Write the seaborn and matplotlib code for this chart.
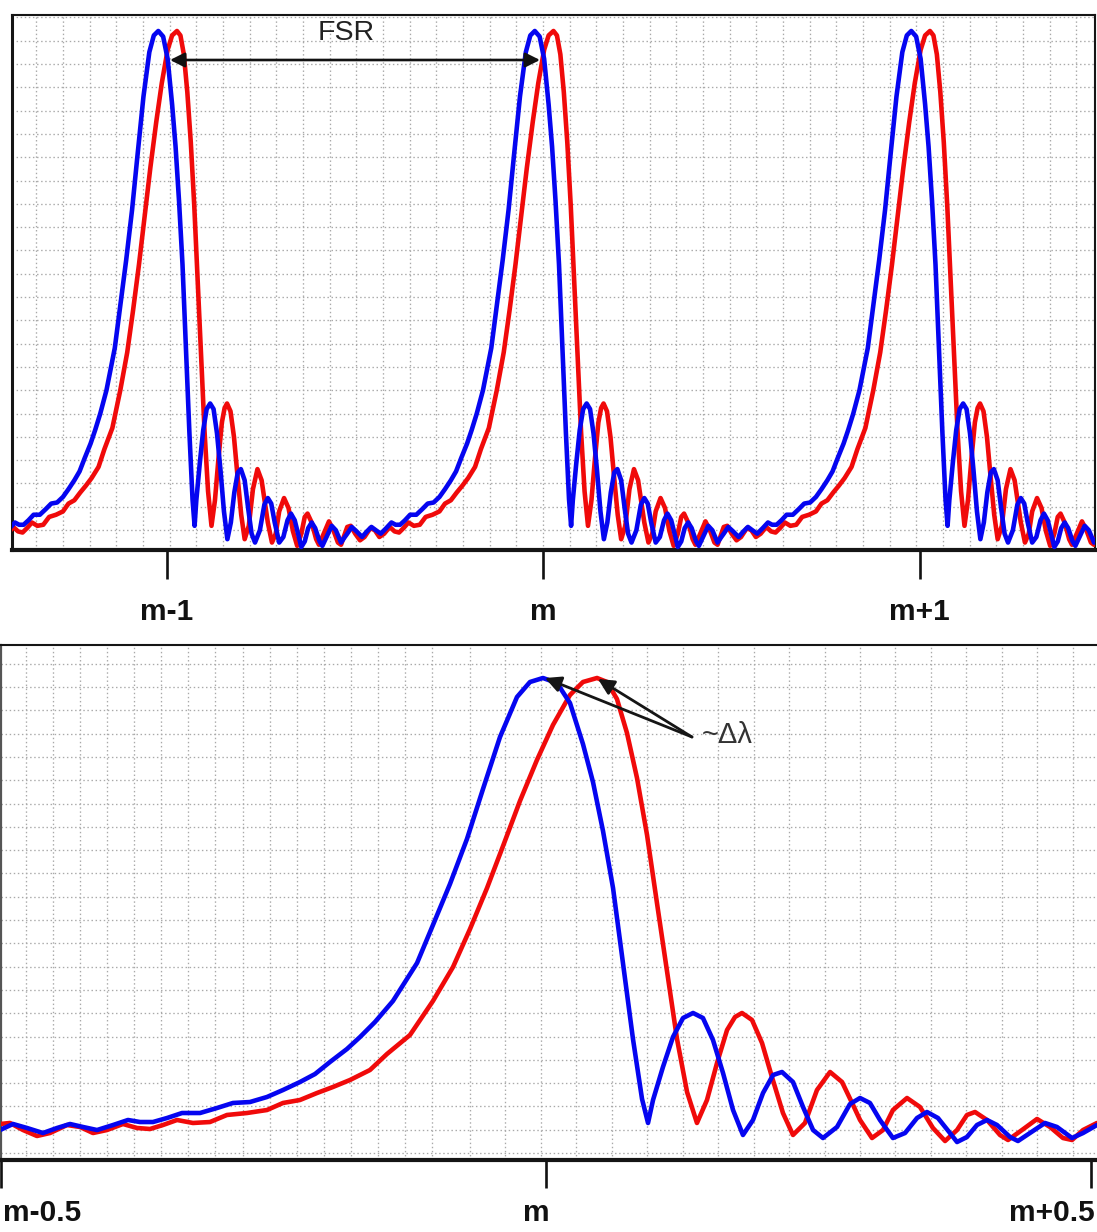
import numpy as np
import pandas as pd
import matplotlib
matplotlib.use("Agg")
import matplotlib.pyplot as plt
import seaborn as sns

# ---------------- data ----------------
# one free-spectral-range profile, x in FSR units relative to order m,
# y = normalised transmission (peak = 1)
blue_x = [-0.5009, -0.4890, -0.4761, -0.4615, -0.4486, -0.4367, -0.4248, -0.4119,
          -0.3972, -0.3835, -0.3725, -0.3606, -0.3477, -0.3339, -0.3174, -0.3018,
          -0.2872, -0.2716, -0.2560, -0.2413, -0.2257, -0.2119, -0.1982, -0.1826,
          -0.1706, -0.1569, -0.1404, -0.1183, -0.1037, -0.0881, -0.0725, -0.0578,
          -0.0422, -0.0266, -0.0147, -0.0028, 0.0101, 0.0220, 0.0339, 0.0431,
          0.0523, 0.0615, 0.0706, 0.0798, 0.0881, 0.0936, 0.0982, 0.1073,
          0.1165, 0.1257, 0.1349, 0.1440, 0.1532, 0.1624, 0.1716, 0.1807,
          0.1899, 0.1991, 0.2083, 0.2165, 0.2266, 0.2358, 0.2450, 0.2541,
          0.2670, 0.2789, 0.2881, 0.2972, 0.3064, 0.3183, 0.3294, 0.3404,
          0.3495, 0.3596, 0.3706, 0.3771, 0.3862, 0.3954, 0.4046, 0.4138,
          0.4257, 0.4330, 0.4440, 0.4578, 0.4688, 0.4826, 0.4927, 0.5055]
blue_y = [0.0622, 0.0747, 0.0664, 0.0560, 0.0664, 0.0747, 0.0685, 0.0622,
          0.0726, 0.0830, 0.0788, 0.0788, 0.0871, 0.0975, 0.0975, 0.1079,
          0.1183, 0.1203, 0.1307, 0.1452, 0.1618, 0.1784, 0.2033, 0.2303,
          0.2552, 0.2863, 0.3299, 0.4087, 0.4876, 0.5726, 0.6660, 0.7697,
          0.8776, 0.9606, 0.9917, 1.0000, 0.9896, 0.9481, 0.8631, 0.7842,
          0.6826, 0.5643, 0.4087, 0.2510, 0.1266, 0.0768, 0.1245, 0.1929,
          0.2552, 0.2946, 0.3050, 0.2946, 0.2490, 0.1805, 0.1037, 0.0519,
          0.0830, 0.1390, 0.1763, 0.1826, 0.1618, 0.1100, 0.0622, 0.0456,
          0.0685, 0.1162, 0.1286, 0.1183, 0.0830, 0.0456, 0.0560, 0.0871,
          0.0996, 0.0871, 0.0560, 0.0373, 0.0477, 0.0726, 0.0830, 0.0726,
          0.0477, 0.0394, 0.0560, 0.0768, 0.0685, 0.0456, 0.0560, 0.0726]

red_x = [-0.5009, -0.4917, -0.4798, -0.4670, -0.4550, -0.4394, -0.4275, -0.4156,
         -0.4028, -0.3881, -0.3752, -0.3633, -0.3514, -0.3385, -0.3239, -0.3083,
         -0.2927, -0.2743, -0.2560, -0.2413, -0.2257, -0.2101, -0.1954, -0.1798,
         -0.1615, -0.1459, -0.1248, -0.1037, -0.0853, -0.0697, -0.0541, -0.0394,
         -0.0239, -0.0083, 0.0064, 0.0220, 0.0339, 0.0468, 0.0560, 0.0651,
         0.0743, 0.0835, 0.0927, 0.1018, 0.1110, 0.1202, 0.1294, 0.1385,
         0.1477, 0.1569, 0.1661, 0.1734, 0.1798, 0.1890, 0.1982, 0.2073,
         0.2174, 0.2266, 0.2376, 0.2486, 0.2606, 0.2716, 0.2817, 0.2881,
         0.2991, 0.3092, 0.3183, 0.3312, 0.3431, 0.3550, 0.3661, 0.3771,
         0.3862, 0.3936, 0.4046, 0.4165, 0.4239, 0.4367, 0.4505, 0.4624,
         0.4743, 0.4826, 0.4927, 0.5055]
red_y = [0.0747, 0.0768, 0.0622, 0.0498, 0.0560, 0.0726, 0.0685, 0.0560,
         0.0622, 0.0747, 0.0664, 0.0643, 0.0726, 0.0830, 0.0768, 0.0788,
         0.0934, 0.0975, 0.1037, 0.1183, 0.1245, 0.1390, 0.1515, 0.1660,
         0.1867, 0.2199, 0.2593, 0.3299, 0.4004, 0.4793, 0.5643, 0.6515,
         0.7448, 0.8299, 0.9025, 0.9647, 0.9917, 1.0000, 0.9917, 0.9564,
         0.8859, 0.7925, 0.6743, 0.5332, 0.3921, 0.2510, 0.1411, 0.0768,
         0.1245, 0.2012, 0.2697, 0.2967, 0.3050, 0.2905, 0.2427, 0.1722,
         0.0975, 0.0519, 0.0768, 0.1452, 0.1826, 0.1618, 0.1141, 0.0830,
         0.0456, 0.0622, 0.1037, 0.1286, 0.1100, 0.0664, 0.0394, 0.0622,
         0.0934, 0.0996, 0.0830, 0.0519, 0.0415, 0.0622, 0.0851, 0.0685,
         0.0456, 0.0415, 0.0622, 0.0768]

top_orders = [-1, 0, 1]
top_tick_labels = ["m-1", "m", "m+1"]
bottom_tick_labels = ["m-0.5", "m", "m+0.5"]
top_shift = -0.019          # position of the profile in the upper panel

BLUE = "#0505f0"
RED = "#f00a0a"
LW = 3.3

# ---------------- figure ----------------
sns.set_theme(style="white")
plt.rcParams["font.family"] = ["Liberation Sans", "DejaVu Sans"]
plt.rcParams["lines.solid_joinstyle"] = "round"
plt.rcParams["lines.solid_capstyle"] = "round"

W, H = 1097, 1232
fig = plt.figure(figsize=(W / 100, H / 100), dpi=100)
fig.patch.set_facecolor("white")


def fax(l, r, t, b):
    return [l / W, 1 - b / H, (r - l) / W, (b - t) / H]


ax1 = fig.add_axes(fax(12, 1095, 15, 550))
ax2 = fig.add_axes(fax(1, 1097, 645, 1160))

GRID = dict(color="#a9a9a9", lw=0.95, ls=(0, (1.1, 2.0)), zorder=0)

# ---------- top panel ----------
t_x0, t_x1 = (12 - 543) / 376.5, (1095 - 543) / 376.5
t_y0 = 0.0317
t_y1 = t_y0 + 535 / 536
ax1.set_xlim(t_x0, t_x1)
ax1.set_ylim(t_y0, t_y1)
for k in range(-4, 36):
    ax1.axvline((143 + 26.67 * k - 543) / 376.5, **GRID)
for k in range(0, 23):
    ax1.axhline(t_y0 + (20 + 23.3 * k) / 536, **GRID)


def tiled(xs, ys):
    xs = np.asarray(xs)
    ys = np.asarray(ys)
    keep = xs < 0.499
    X = np.concatenate([xs[keep] + k + top_shift for k in top_orders])
    Y = np.concatenate([ys[keep] for _ in top_orders])
    return X, Y


for xs, ys, col in [(red_x, red_y, RED), (blue_x, blue_y, BLUE)]:
    X, Y = tiled(xs, ys)
    sns.lineplot(x=X, y=Y, color=col, lw=LW, sort=False, estimator=None,
                 ax=ax1, zorder=3)

ax1.set_xticks(top_orders)
ax1.set_xticklabels([])
ax1.tick_params(axis="x", direction="out", length=21, width=1.9,
                color="#111111", bottom=True)
ax1.set_yticks([])
for side, lw in [("left", 2.2), ("top", 1.5), ("right", 1.5), ("bottom", 3.0)]:
    ax1.spines[side].set_visible(True)
    ax1.spines[side].set_linewidth(lw)
    ax1.spines[side].set_color("#151515")
for xv, lab in zip(top_orders, top_tick_labels):
    ax1.text(xv, -0.131, lab, transform=ax1.get_xaxis_transform(),
             ha="center", va="baseline", fontsize=21.5, fontweight="bold",
             color="#111111", clip_on=False)

fsr_y = t_y0 + (550 - 60) / 536
ax1.annotate("", xy=((540 - 543) / 376.5, fsr_y), xytext=((170 - 543) / 376.5, fsr_y),
             arrowprops=dict(arrowstyle="<|-|>", lw=1.9, color="#111111",
                             mutation_scale=22, shrinkA=0, shrinkB=0), zorder=5)
ax1.text((346 - 543) / 376.5, t_y0 + (550 - 33) / 536, "FSR", ha="center",
         va="center", fontsize=20.5, color="#222222", zorder=5)

# ---------- bottom panel ----------
b_x0, b_x1 = (1 - 546) / 1090, (1097 - 546) / 1090
ax2.set_xlim(b_x0, b_x1)
ax2.set_ylim(0, 515 / 482)
vlines_px = list(np.arange(26, 436, 27.07)) + list(np.arange(470, 1097, 35.45))
for p in vlines_px:
    ax2.axvline((p - 546) / 1090, **GRID)
for k in range(0, 22):
    ax2.axhline((7 + 23.3 * k) / 482, **GRID)

for xs, ys, col in [(red_x, red_y, RED), (blue_x, blue_y, BLUE)]:
    sns.lineplot(x=xs, y=ys, color=col, lw=LW, sort=False, estimator=None,
                 ax=ax2, zorder=3)

ax2.set_xticks([-0.5, 0.0, 0.5])
ax2.set_xticklabels([])
ax2.tick_params(axis="x", direction="out", length=20, width=1.9,
                color="#111111", bottom=True)
ax2.set_yticks([])
ax2.spines["right"].set_visible(False)
ax2.spines["top"].set_visible(True)
ax2.spines["top"].set_linewidth(1.5)
ax2.spines["top"].set_color("#151515")
ax2.spines["left"].set_visible(True)
ax2.spines["left"].set_linewidth(1.6)
ax2.spines["left"].set_color("#555555")
ax2.spines["bottom"].set_visible(True)
ax2.spines["bottom"].set_linewidth(3.0)
ax2.spines["bottom"].set_color("#151515")

btf = ax2.get_xaxis_transform()
lab_y = -0.119
ax2.text((3 - 546) / 1090, lab_y, bottom_tick_labels[0], transform=btf,
         ha="left", va="baseline", fontsize=21.5, fontweight="bold",
         color="#111111", clip_on=False)
ax2.text(-0.009, lab_y, bottom_tick_labels[1], transform=btf,
         ha="center", va="baseline", fontsize=21.5, fontweight="bold",
         color="#111111", clip_on=False)
ax2.text((1095 - 546) / 1090, lab_y, bottom_tick_labels[2], transform=btf,
         ha="right", va="baseline", fontsize=21.5, fontweight="bold",
         color="#111111", clip_on=False)

tail = ((692 - 546) / 1090, (1160 - 737) / 482)
for tip in [((545 - 546) / 1090, 1.0), ((598 - 546) / 1090, 0.998)]:
    ax2.annotate("", xy=tip, xytext=tail,
                 arrowprops=dict(arrowstyle="-|>", lw=2.0, color="#151515",
                                 mutation_scale=24, shrinkA=0, shrinkB=0),
                 zorder=5)
ax2.text((702 - 546) / 1090, (1160 - 735) / 482, "~Δλ", ha="left", va="center",
         fontsize=21, color="#333333", zorder=5)

fig.savefig("out.png", dpi=100, facecolor="white")
